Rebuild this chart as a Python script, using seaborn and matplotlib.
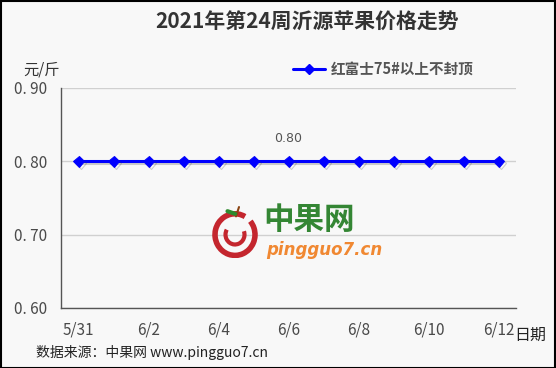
import pandas as pd
import seaborn as sns
import matplotlib.pyplot as plt
import matplotlib.patheffects as pe
from matplotlib.patches import Rectangle, Arc

dates = ["5/31", "6/1", "6/2", "6/3", "6/4", "6/5", "6/6",
         "6/7", "6/8", "6/9", "6/10", "6/11", "6/12"]
prices = [0.80, 0.80, 0.80, 0.80, 0.80, 0.80, 0.80,
          0.80, 0.80, 0.80, 0.80, 0.80, 0.80]
series_name = "红富士75#以上不封顶"
y_ticks = [0.60, 0.70, 0.80, 0.90]

sns.set_style("white")
plt.rcParams["font.family"] = ["Noto Sans CJK SC", "DejaVu Sans"]

W, H = 556, 368
bg = "#f8f8f8"
fig = plt.figure(figsize=(W / 100, H / 100), dpi=100, facecolor=bg)
ax = fig.add_axes([61 / W, 1 - 308 / H, 455 / W, 220 / H], facecolor=bg)

df = pd.DataFrame({"date": dates, "price": prices, "series": series_name})
df["pos"] = range(len(dates))

sns.lineplot(data=df, x="pos", y="price", color="#0000ff", lw=2.2,
             marker="D", markersize=5.5, markeredgecolor="#0000ff",
             ax=ax, legend=False,
             path_effects=[pe.SimpleLineShadow(offset=(1.5, -1.5), alpha=0.25, shadow_color="#444444"),
                           pe.Normal()])

ax.set_xlim(-0.5, len(dates) - 0.5)
ax.set_ylim(0.60, 0.90)
ax.set_yticks(y_ticks)
ax.set_yticklabels([f"{v:.2f}".replace(".", ". ") for v in y_ticks],
                   color="#4a4a4a", fontsize=11)
ax.yaxis.grid(True, color="#d0d0d0", lw=1)
ax.set_axisbelow(True)

ax.set_xticks(range(0, len(dates), 2))
ax.set_xticklabels(dates[::2], color="#4a4a4a", fontsize=11)
ax.set_xticks([i - 0.5 for i in range(1, len(dates) + 1)], minor=True)
ax.tick_params(axis="x", which="major", length=0, pad=10)
ax.tick_params(axis="x", which="minor", direction="in", length=5, color="#555555")
ax.tick_params(axis="y", direction="in", length=6, color="#555555", pad=10)
ax.set_xlabel("")
ax.set_ylabel("")
for s in ["top", "right"]:
    ax.spines[s].set_visible(False)
for s in ["left", "bottom"]:
    ax.spines[s].set_color("#555555")
    ax.spines[s].set_linewidth(1)

# data label
ax.annotate(f"{prices[6]:.2f}", (6, prices[6]), xytext=(0, 14),
            textcoords="offset points", ha="center", fontsize=9,
            color="#555555", family="DejaVu Sans")

# legend
ax.plot([], [], color="#0000ff", lw=2.2, marker="D", markersize=5.5, label=series_name)
leg = ax.legend(loc="upper left", bbox_to_anchor=(280 / W, 1 - 48 / H),
                bbox_transform=fig.transFigure, frameon=False,
                handlelength=2.2, handletextpad=0.4,
                prop={"weight": "bold", "size": 10.5})
for t in leg.get_texts():
    t.set_color("#555555")

fig.text(307 / W, 1 - 22 / H, "2021年第24周沂源苹果价格走势", ha="center", va="center",
         fontsize=15, fontweight="bold", color="#333333")
fig.text(42 / W, 1 - 70 / H, "元/斤", ha="center", va="center", fontsize=11, color="#333333")
fig.text(530 / W, 1 - 335 / H, "日期", ha="center", va="center", fontsize=11.5, color="#222222")
fig.text(36 / W, 1 - 352 / H, "数据来源：中果网 www.pingguo7.cn", ha="left", va="center",
         fontsize=10, color="#222222")

# watermark
fig.text(263 / W, 1 - 220 / H, "中果网", ha="left", va="center", fontsize=22,
         fontweight="bold", color="#1e7a1e", alpha=0.9)
fig.text(266 / W, 1 - 250 / H, "pingguo7.cn", ha="left", va="center", fontsize=12,
         fontweight="bold", style="italic", color="#f07c1c", family="DejaVu Sans", alpha=0.9)
ax_logo = fig.add_axes([210 / W, 1 - 258 / H, 50 / W, 52 / H])
ax_logo.axis("off")
ax_logo.set_xlim(0, 1)
ax_logo.set_ylim(0, 1)
ax_logo.add_patch(Arc((0.5, 0.45), 0.8, 0.8, theta1=60, theta2=400, ec="#c4262e", lw=4))
ax_logo.add_patch(Arc((0.5, 0.45), 0.38, 0.38, theta1=150, theta2=380, ec="#c4262e", lw=3))
ax_logo.plot([0.52, 0.58], [0.8, 0.98], color="#8b4513", lw=1.5)
ax_logo.plot([0.35, 0.5], [0.9, 0.85], color="#2e8b2e", lw=3)

fig.add_artist(Rectangle((0.5 / W, 0.5 / H), 1 - 1.5 / W, 1 - 1.5 / H,
                         transform=fig.transFigure, fill=False, ec="black", lw=1.5))

fig.savefig("out.png", dpi=100, facecolor=bg)
